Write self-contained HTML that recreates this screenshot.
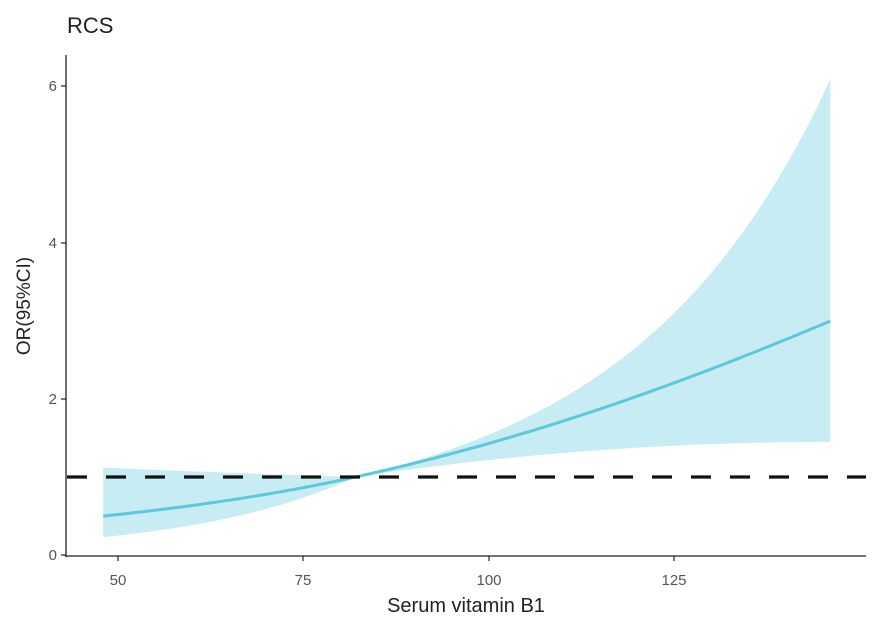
<!DOCTYPE html>
<html><head><meta charset="utf-8"><style>
body{margin:0;background:#fff;}
svg{display:block;font-family:"Liberation Sans",sans-serif;}
</style></head><body>
<svg id="s" width="880" height="628" viewBox="0 0 880 628">
<text x="67" y="33" font-size="22" fill="#222">RCS</text>
<path id="band" fill="#c8ecf4" stroke="none"/>
<path id="line" fill="none" stroke="#5cc8dc" stroke-width="3"/>
<line x1="67" y1="477" x2="866" y2="477" stroke="#111" stroke-width="3.2" stroke-dasharray="20,19"/>
<line x1="66" y1="55" x2="66" y2="557" stroke="#222" stroke-width="1.3"/>
<line x1="65" y1="556" x2="866" y2="556" stroke="#222" stroke-width="1.3"/>
<g stroke="#222" stroke-width="1.2">
<line x1="61" y1="555" x2="66" y2="555"/><line x1="61" y1="399" x2="66" y2="399"/>
<line x1="61" y1="243" x2="66" y2="243"/><line x1="61" y1="86" x2="66" y2="86"/>
<line x1="118" y1="556" x2="118" y2="561"/><line x1="303" y1="556" x2="303" y2="561"/>
<line x1="489" y1="556" x2="489" y2="561"/><line x1="674" y1="556" x2="674" y2="561"/>
</g>
<g font-size="15" fill="#555" text-anchor="end">
<text x="57" y="560">0</text><text x="57" y="404">2</text><text x="57" y="248">4</text><text x="57" y="91">6</text>
</g>
<g font-size="15" fill="#555" text-anchor="middle">
<text x="118" y="585">50</text><text x="303" y="585">75</text><text x="489" y="585">100</text><text x="674" y="585">125</text>
</g>
<text x="466" y="612" font-size="20" fill="#222" text-anchor="middle">Serum vitamin B1</text>
<text transform="translate(30,306) rotate(-90)" font-size="19" fill="#222" text-anchor="middle">OR(95%CI)</text>
</svg>
<script>
function X(v){return 118+(v-50)*7.42;}
function Y(o){return 555-o*78;}
var up=[],lo=[],ln=[];
for(var v=48;v<=146.001;v+=0.5){
 var d=v-82,c,U,L;
 if(d>=0){c=0.021*d-0.00006*d*d;var wu=0.0015*d+0.00015*d*d;U=Math.exp(c+wu);var t=1-d/64;L=1+0.45*(1-t*t);}
 else{var a=-d;c=-0.021*a+0.000016*a*a;U=Math.exp(c+0.81*a/34);L=Math.exp(c-0.78*a/34);}
 var cx=X(v).toFixed(1);
 ln.push(cx+","+Y(Math.exp(c)).toFixed(1));
 up.push(cx+","+Y(U).toFixed(1));
 lo.unshift(cx+","+Y(L).toFixed(1));
}
document.getElementById("band").setAttribute("d","M"+up.join("L")+"L"+lo.join("L")+"Z");
document.getElementById("line").setAttribute("d","M"+ln.join("L"));
</script>
</body></html>
